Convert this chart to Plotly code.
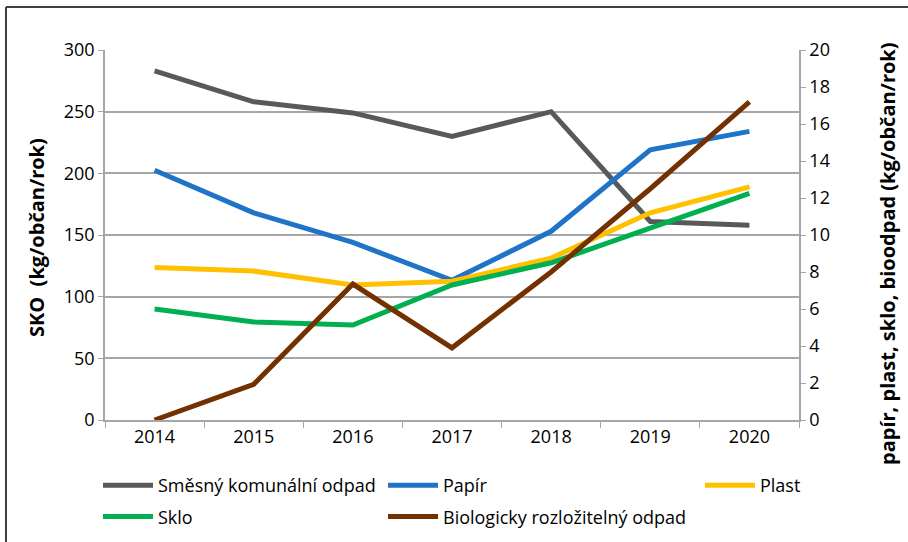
import plotly.graph_objects as go

years = ["2014", "2015", "2016", "2017", "2018", "2019", "2020"]
sko = [283, 258, 249, 230, 250, 161, 158]
papir = [13.5, 11.2, 9.6, 7.55, 10.2, 14.6, 15.6]
plast = [8.25, 8.05, 7.3, 7.5, 8.75, 11.2, 12.6]
sklo = [6.0, 5.3, 5.13, 7.3, 8.5, 10.35, 12.25]
bio = [0.0, 1.93, 7.35, 3.9, 8.0, 12.5, 17.2]

names = ["Směsný komunální odpad", "Papír", "Plast", "Sklo", "Biologicky rozložitelný odpad"]
colors = ["#595959", "#1F73C9", "#FFC000", "#00B050", "#733000"]
left_title = "SKO  (kg/občan/rok)"
right_title = "papír, plast, sklo, bioodpad (kg/občan/rok)"

W, H = 908, 542
L, R, T, B = 105, 799, 50, 420
FONT = "Open Sans"
FS = 18

fig = go.Figure()
series = [
    (names[0], sko, colors[0], "y", "legend", "g1"),
    (names[1], papir, colors[1], "y2", "legend2", "g1"),
    (names[2], plast, colors[2], "y2", "legend3", "g1"),
    (names[3], sklo, colors[3], "y2", "legend", "g2"),
    (names[4], bio, colors[4], "y2", "legend2", "g2"),
]
for nm, vals, col, ax, lg, grp in series:
    fig.add_trace(go.Scatter(x=years, y=vals, name=nm, mode="lines",
                             line=dict(color=col, width=5), yaxis=ax,
                             legend=lg, legendgroup=grp))

def px(x):
    return (x - L) / (R - L)

def py(y):
    return (B - y) / (B - T)

def cx(x):
    return x / W

def cy(y):
    return 1 - y / H

legfont = dict(family=FONT, size=FS, color="#000000")
legcommon = dict(font=legfont, bgcolor="rgba(0,0,0,0)", orientation="v",
                 xref="container", yref="container",
                 xanchor="left", yanchor="top", tracegroupgap=5,
                 itemwidth=50, traceorder="grouped", groupclick="toggleitem")

tickfont = dict(family=FONT, size=FS, color="#000000")
fig.update_layout(
    width=W, height=H,
    margin=dict(l=L, r=W - R, t=T, b=H - B, pad=0, autoexpand=False),
    paper_bgcolor="white", plot_bgcolor="white",
    font=dict(family=FONT, size=FS, color="#000000"),
    showlegend=True,
    legend=dict(x=cx(98), y=cy(467), **legcommon),
    legend2=dict(x=cx(383), y=cy(467), **legcommon),
    legend3=dict(x=cx(700), y=cy(467), **legcommon),
    xaxis=dict(type="category", range=[-0.5, 6.5], showgrid=False,
               showline=True, linecolor="#A6A6A6", linewidth=1.5,
               ticks="outside", tickson="boundaries", ticklen=6,
               tickcolor="#A6A6A6", tickfont=tickfont, zeroline=False),
    yaxis=dict(range=[0, 300], dtick=50, showgrid=True, gridcolor="#A6A6A6",
               gridwidth=1.5, showline=True, linecolor="#A6A6A6", linewidth=1.5,
               ticks="outside", ticklen=5, tickcolor="#A6A6A6", zeroline=False,
               tickfont=tickfont),
    yaxis2=dict(range=[0, 20], dtick=2, overlaying="y", side="right",
                showgrid=False, showline=True, linecolor="#A6A6A6", linewidth=1.5,
                ticks="outside", ticklen=5, tickcolor="#A6A6A6", zeroline=False,
                tickfont=tickfont),
)

titlefont = dict(family=FONT, size=20, color="#000000")
fig.add_annotation(text="<b>" + left_title + "</b>", textangle=-90,
                   xref="paper", yref="paper", x=px(37), y=py(238),
                   xanchor="center", yanchor="middle", showarrow=False,
                   font=titlefont)
fig.add_annotation(text="<b>" + right_title + "</b>", textangle=-90,
                   xref="paper", yref="paper", x=px(888), y=py(254),
                   xanchor="center", yanchor="middle", showarrow=False,
                   font=titlefont)

# outer chart border (top and left edges visible)
fig.add_shape(type="line", xref="paper", yref="paper",
              x0=px(6), x1=px(W + 5), y0=py(7), y1=py(7),
              line=dict(color="#404040", width=2))
fig.add_shape(type="line", xref="paper", yref="paper",
              x0=px(6), x1=px(6), y0=py(7), y1=py(H + 5),
              line=dict(color="#404040", width=2))

fig.write_html("out.html",
               config={"displayModeBar": False},
               post_script="document.body.style.margin='0px';"
                           "document.body.style.overflow='hidden';")
